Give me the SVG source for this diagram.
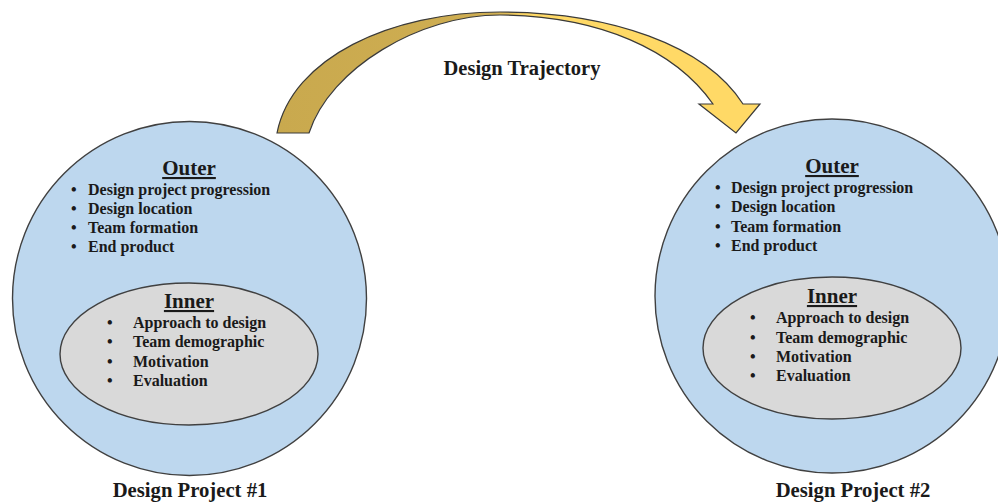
<svg xmlns="http://www.w3.org/2000/svg" width="998" height="502" viewBox="0 0 998 502">
<style>
.t{font-family:"Liberation Serif","Times New Roman",serif;font-weight:bold;fill:#1a1a1a}
.hd{font-size:21px;text-anchor:middle;text-decoration:underline}
.it{font-size:16px}
.lb{font-size:20.7px;text-anchor:middle}
.outer{fill:#BDD7EE;stroke:#404040;stroke-width:1.4}
.inner{fill:#D9D9D9;stroke:#404040;stroke-width:1.4}
</style>
<defs>
<linearGradient id="gold" gradientUnits="userSpaceOnUse" x1="277" y1="0" x2="760" y2="0">
<stop offset="0" stop-color="#C9A94E"/>
<stop offset="0.45" stop-color="#CFAE52"/>
<stop offset="0.52" stop-color="#FFD966"/>
<stop offset="1" stop-color="#FFD966"/>
</linearGradient>
</defs>
<rect width="998" height="502" fill="#ffffff"/>
<g id="connectors">
<path d="M277,133 C292,58 390,12 500,12 C610,12 705,45 743,104 L760,104 L736,133 L699,104 L713,104 C675,50 600,16 500,15 C420,15 330,68 309,133 Z" fill="url(#gold)" stroke="#3a3a3a" stroke-width="1.2" stroke-linejoin="miter"/>
<text class="t" x="522" y="75" style="font-size:20.5px;text-anchor:middle">Design Trajectory</text>
</g>
<g id="project1">
<circle class="outer" cx="189.5" cy="298.5" r="177"/>
<text class="t hd" x="189" y="175">Outer</text>
<text class="t it" y="195"><tspan x="71">•</tspan><tspan x="88">Design project progression</tspan></text>
<text class="t it" y="214"><tspan x="71">•</tspan><tspan x="88">Design location</tspan></text>
<text class="t it" y="233"><tspan x="71">•</tspan><tspan x="88">Team formation</tspan></text>
<text class="t it" y="252"><tspan x="71">•</tspan><tspan x="88">End product</tspan></text>
<g id="inner1">
<ellipse class="inner" cx="189" cy="354" rx="129" ry="71"/>
<text class="t hd" x="189" y="308">Inner</text>
<text class="t it" y="328"><tspan x="107">•</tspan><tspan x="133">Approach to design</tspan></text>
<text class="t it" y="347"><tspan x="107">•</tspan><tspan x="133">Team demographic</tspan></text>
<text class="t it" y="367"><tspan x="107">•</tspan><tspan x="133">Motivation</tspan></text>
<text class="t it" y="386"><tspan x="107">•</tspan><tspan x="133">Evaluation</tspan></text>
</g>
<text class="t lb" x="190" y="497">Design Project #1</text>
</g>
<g id="project2">
<circle class="outer" cx="832" cy="296" r="177"/>
<text class="t hd" x="832" y="173">Outer</text>
<text class="t it" y="193"><tspan x="715">•</tspan><tspan x="731">Design project progression</tspan></text>
<text class="t it" y="212"><tspan x="715">•</tspan><tspan x="731">Design location</tspan></text>
<text class="t it" y="232"><tspan x="715">•</tspan><tspan x="731">Team formation</tspan></text>
<text class="t it" y="251"><tspan x="715">•</tspan><tspan x="731">End product</tspan></text>
<g id="inner2">
<ellipse class="inner" cx="832" cy="348" rx="129" ry="71"/>
<text class="t hd" x="832" y="303">Inner</text>
<text class="t it" y="323"><tspan x="750">•</tspan><tspan x="776">Approach to design</tspan></text>
<text class="t it" y="343"><tspan x="750">•</tspan><tspan x="776">Team demographic</tspan></text>
<text class="t it" y="362"><tspan x="750">•</tspan><tspan x="776">Motivation</tspan></text>
<text class="t it" y="381"><tspan x="750">•</tspan><tspan x="776">Evaluation</tspan></text>
</g>
<text class="t lb" x="853" y="497">Design Project #2</text>
</g>
</svg>
